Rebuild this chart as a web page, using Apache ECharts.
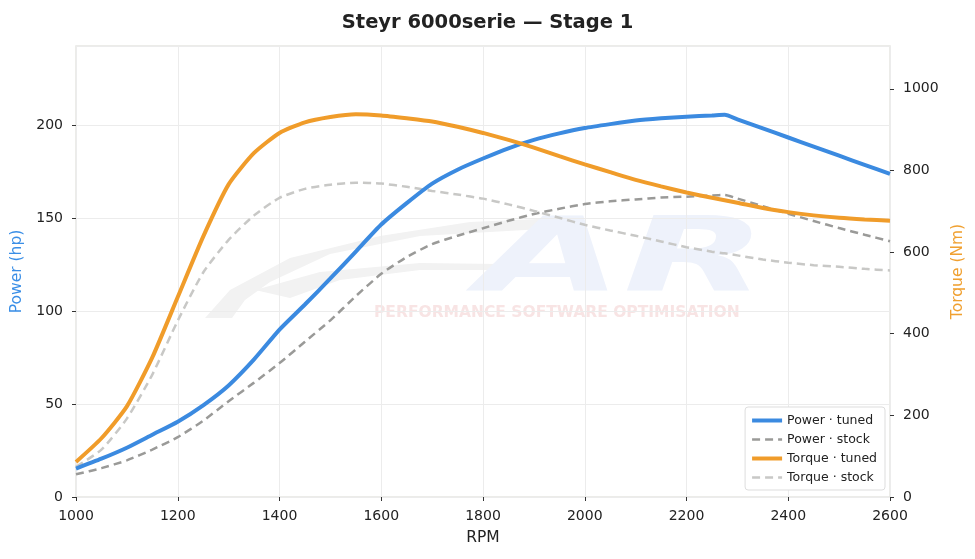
<!DOCTYPE html>
<html>
<head>
<meta charset="utf-8">
<script src="https://cdn.jsdelivr.net/npm/echarts@6/dist/echarts.min.js"></script>
<style>
  html, body { margin: 0; padding: 0; background: #fff; }
  #chart { width: 975px; height: 559px; }
</style>
</head>
<body>
<div id="chart"></div>
<script>
// engine speed, every 50 rpm (plus the 2275 peak)
var rpm = [1000, 1050, 1100, 1150, 1200, 1250, 1300, 1350, 1400, 1450, 1500, 1550, 1600, 1650, 1700, 1750, 1800,
           1850, 1900, 1950, 2000, 2050, 2100, 2150, 2200, 2250, 2275, 2300, 2350, 2400, 2450, 2500, 2550, 2600];
var powerTuned = [15.3, 20.6, 26.5, 33.5, 40.5, 49.3, 60, 74, 90, 103.5, 117.5, 132, 146.5, 158, 168.5, 176, 182,
                  187.5, 192, 195.5, 198.4, 200.5, 202.4, 203.6, 204.5, 205.1, 205.5, 203.1, 198.2, 193.3, 188.4, 183.5, 178.6, 173.7];
var powerStock = [12.2, 15.5, 19.7, 25.5, 32.2, 41, 51.5, 61.5, 72, 83.5, 95, 108, 120, 129, 136, 140.5, 144.5,
                  148.5, 152.2, 155, 157.5, 159, 160, 161, 161.5, 162.1, 162.4, 160.5, 156.4, 152.3, 148.4, 144.6, 141, 137.5];
var torqueTuned = [86, 144, 222, 342, 490, 638, 766, 843, 892, 918, 931, 938, 935, 928, 920, 907, 892,
                   875, 856, 835, 815, 796, 777, 761, 746, 733, 727, 721, 708, 698, 690, 684, 680, 677];
var torqueStock = [74, 116, 192, 300, 432, 550, 630, 690, 733, 755, 765, 770, 768, 760, 750, 741, 731,
                   717, 701, 684, 667, 653, 640, 626, 612, 601, 597, 592, 582, 574, 568, 564, 559, 555];

function pairs(vals) {
  return rpm.map(function(r, i) { return [r, vals[i]]; });
}

var chart = echarts.init(document.getElementById("chart"));
var font = "DejaVu Sans";
var plain = function(v) { return String(v); };

var option = {
  animation: false,
  textStyle: { fontFamily: font },
  title: {
    text: "Steyr 6000serie \u2014 Stage 1",
    left: "center",
    top: 8,
    textStyle: { fontSize: 19.5, fontWeight: "bold", color: "#222", fontFamily: font }
  },
  grid: {
    left: 76, right: 85, top: 46, bottom: 62,
    show: true,
    borderColor: "#e6e6e2",
    borderWidth: 1.5,
    backgroundColor: "transparent"
  },
  legend: {
    orient: "vertical",
    right: 90,
    bottom: 69,
    itemWidth: 30,
    itemHeight: 10,
    itemGap: 6,
    padding: [7, 8, 6, 5],
    borderColor: "#dddddd",
    borderWidth: 1,
    borderRadius: 3,
    backgroundColor: "#fff",
    itemStyle: { opacity: 0 },
    textStyle: { fontSize: 12.5, color: "#222", fontFamily: font },
    data: [
      { name: "Power \u00b7 tuned", lineStyle: { width: 4 } },
      { name: "Power \u00b7 stock", lineStyle: { width: 2.5 } },
      { name: "Torque \u00b7 tuned", lineStyle: { width: 4 } },
      { name: "Torque \u00b7 stock", lineStyle: { width: 2.5 } }
    ]
  },
  graphic: [
    {
      type: "polygon",
      silent: true,
      z: 0,
      shape: {
        points: [[205, 318], [230, 290], [290, 258], [380, 236], [470, 222], [560, 218], [560, 228], [420, 236], [330, 254], [270, 282], [245, 300], [232, 318]]
      },
      style: { fill: "#f2f2f2" }
    },
    {
      type: "polygon",
      silent: true,
      z: 0,
      shape: {
        points: [[255, 290], [320, 272], [420, 263], [500, 264], [500, 270], [420, 270], [340, 280], [290, 298]]
      },
      style: { fill: "#f2f2f2" }
    },
    {
      type: "text",
      silent: true,
      z: 0,
      x: 478,
      y: 212,
      scaleX: 1.8,
      style: {
        text: "AR",
        font: "italic 900 104px DejaVu Sans",
        verticalAlign: "top",
        fill: "#eef2fb"
      }
    },
    {
      type: "text",
      silent: true,
      z: 0,
      left: 374,
      top: 305,
      style: {
        text: "PERFORMANCE SOFTWARE OPTIMISATION",
        font: "bold 15.5px DejaVu Sans",
        fill: "#f8e4e4"
      }
    }
  ],
  xAxis: {
    type: "value",
    min: 1000,
    max: 2600,
    interval: 200,
    name: "RPM",
    nameLocation: "middle",
    nameGap: 33,
    nameTextStyle: { fontSize: 15.5, color: "#222", fontFamily: font },
    axisLine: { show: false },
    axisTick: { show: true, length: 4, lineStyle: { color: "#333" } },
    axisLabel: { fontSize: 14, color: "#222", margin: 12, fontFamily: font, formatter: plain },
    splitLine: { show: true, lineStyle: { color: "#ececec", width: 1 } }
  },
  yAxis: [
    {
      type: "value",
      min: 0,
      max: 242.5,
      interval: 50,
      position: "left",
      name: "Power (hp)",
      nameLocation: "middle",
      nameGap: 48,
      nameTextStyle: { fontSize: 15.5, color: "#3a8ee6", fontFamily: font },
      axisLine: { show: false },
      axisTick: { show: true, length: 4, lineStyle: { color: "#333" } },
      axisLabel: { fontSize: 14, color: "#222", margin: 13, showMaxLabel: false, fontFamily: font, formatter: plain },
      splitLine: { show: true, lineStyle: { color: "#ececec", width: 1 } }
    },
    {
      type: "value",
      min: 0,
      max: 1105,
      interval: 200,
      position: "right",
      name: "Torque (Nm)",
      nameLocation: "middle",
      nameGap: 56,
      nameTextStyle: { fontSize: 15.5, color: "#f0a030", fontFamily: font },
      axisLine: { show: false },
      axisTick: { show: true, length: 4, lineStyle: { color: "#333" } },
      axisLabel: { fontSize: 14, color: "#222", margin: 13, showMaxLabel: false, fontFamily: font, formatter: plain },
      splitLine: { show: false }
    }
  ],
  series: [
    {
      name: "Power \u00b7 tuned",
      type: "line",
      yAxisIndex: 0,
      smooth: 0.2,
      symbol: "none",
      z: 5,
      lineStyle: { color: "#3b8ae0", width: 4 },
      itemStyle: { color: "#3b8ae0" },
      data: pairs(powerTuned)
    },
    {
      name: "Power \u00b7 stock",
      type: "line",
      yAxisIndex: 0,
      smooth: 0.2,
      symbol: "none",
      z: 4,
      lineStyle: { color: "#9a9a98", width: 2.5, type: [8, 5] },
      itemStyle: { color: "#9a9a98" },
      data: pairs(powerStock)
    },
    {
      name: "Torque \u00b7 tuned",
      type: "line",
      yAxisIndex: 1,
      smooth: 0.2,
      symbol: "none",
      z: 5,
      lineStyle: { color: "#f09c2a", width: 4 },
      itemStyle: { color: "#f09c2a" },
      data: pairs(torqueTuned)
    },
    {
      name: "Torque \u00b7 stock",
      type: "line",
      yAxisIndex: 1,
      smooth: 0.2,
      symbol: "none",
      z: 4,
      lineStyle: { color: "#c8c8c6", width: 2.5, type: [8, 5] },
      itemStyle: { color: "#c8c8c6" },
      data: pairs(torqueStock)
    }
  ]
};
chart.setOption(option);
</script>
</body>
</html>
